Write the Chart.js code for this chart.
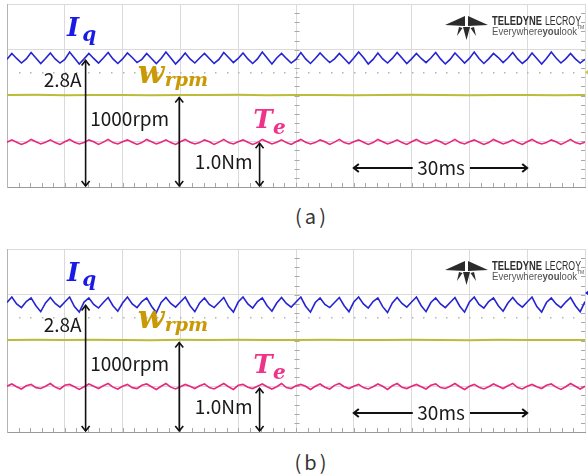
<!DOCTYPE html>
<html>
<head>
<meta charset="utf-8">
<script src="https://cdn.jsdelivr.net/npm/chart.js@4.4.1/dist/chart.umd.min.js"></script>
<style>
  html, body { margin: 0; padding: 0; background: #fff; }
  body { width: 588px; height: 476px; position: relative; overflow: hidden; }
  canvas { position: absolute; left: 0; }
  #chartA { top: 0; }
  #chartB { top: 245px; }
  .caption {
    position: absolute; left: 272px; width: 80px; text-align: center;
    font: 20px "Noto Sans CJK KR", "Noto Sans", sans-serif; line-height: 26px;
    color: #333; letter-spacing: 3px;
  }
</style>
</head>
<body>
<canvas id="chartA" width="588" height="192"></canvas>
<canvas id="chartB" width="588" height="192"></canvas>
<div class="caption" style="top:203px">(a)</div>
<div class="caption" style="top:449px">(b)</div>
<script>
// Значення, зчитані з осцилограм (100 мс на екран, 10 мс/поділку)
// Iq в А (1 А/под.), швидкість в об/хв (500 об/хв/под.), Te в Н·м (1 Н·м/под.)

// (a) струм Iq
const iqA = [
  2.79,2.92,2.81,2.71, 2.80,2.94,2.82,2.70, 2.81,2.93,2.80,2.71, 2.79,2.95,2.82,2.69,
  2.80,2.92,2.81,2.71, 2.82,2.94,2.80,2.70, 2.80,2.93,2.83,2.72, 2.79,2.92,2.81,2.70,
  2.81,2.95,2.82,2.69, 2.80,2.93,2.80,2.71, 2.82,2.92,2.81,2.70, 2.79,2.94,2.83,2.72,
  2.81,2.93,2.80,2.70, 2.80,2.95,2.82,2.69, 2.82,2.92,2.81,2.71, 2.79,2.94,2.80,2.70,
  2.81,2.93,2.82,2.72, 2.80,2.92,2.81,2.70, 2.82,2.95,2.83,2.69, 2.79,2.93,2.80,2.71,
  2.81,2.94,2.82,2.70, 2.80,2.92,2.81,2.72, 2.82,2.94,2.80,2.69, 2.79,2.93,2.82,2.71,
  2.81,2.95,2.81,2.70, 2.80,2.92,2.83,2.72, 2.82,2.94,2.80,2.70, 2.79,2.93,2.81,2.69,
  2.81,2.95,2.82,2.71, 2.80,2.92,2.80,2.71,
  2.79
];
// (a) швидкість
const speedA = [1005,1007,1004,1006,1005,1003,1006,1005,1007,1004,1005,1006,1004,1005,1007,1005,1003,1006,1005,1004,1005];
// (a) момент Te
const torqueA = [
  0.98,1.03,0.98,0.93, 0.97,1.04,0.99,0.94, 0.98,1.03,0.97,0.93, 0.99,1.04,0.98,0.94,
  0.97,1.03,0.99,0.93, 0.98,1.04,0.97,0.94, 0.99,1.03,0.98,0.93, 0.97,1.04,0.99,0.94,
  0.98,1.03,0.97,0.93, 0.99,1.04,0.98,0.94, 0.97,1.03,0.99,0.93, 0.98,1.04,0.97,0.94,
  0.99,1.03,0.98,0.93, 0.97,1.04,0.99,0.94, 0.98,1.03,0.97,0.93, 0.99,1.04,0.98,0.94,
  0.97,1.03,0.99,0.93, 0.98,1.04,0.97,0.94, 0.99,1.03,0.98,0.93, 0.97,1.04,0.99,0.94,
  0.98,1.03,0.97,0.93, 0.99,1.04,0.98,0.94, 0.97,1.03,0.99,0.93, 0.98,1.04,0.97,0.94,
  0.99,1.03,0.98,0.93, 0.97,1.04,0.99,0.94, 0.98,1.03,0.97,0.93, 0.99,1.04,0.98,0.94,
  0.97,1.03,0.99,0.93, 0.98,1.04,0.97,0.94,
  0.98
];

// (b) струм Iq
const iqB = [
  2.83,2.95,2.80,2.72, 2.85,2.93,2.76,2.63, 2.82,2.94,2.81,2.73, 2.84,2.95,2.74,2.62,
  2.84,2.93,2.79,2.71, 2.83,2.94,2.76,2.64, 2.82,2.95,2.80,2.72, 2.85,2.93,2.75,2.61,
  2.83,2.94,2.81,2.73, 2.84,2.95,2.76,2.63, 2.82,2.93,2.79,2.72, 2.83,2.94,2.74,2.62,
  2.84,2.95,2.80,2.71, 2.85,2.93,2.76,2.64, 2.82,2.94,2.81,2.73, 2.84,2.95,2.75,2.62,
  2.83,2.93,2.79,2.72, 2.83,2.94,2.76,2.63, 2.84,2.95,2.80,2.71, 2.85,2.93,2.74,2.61,
  2.82,2.94,2.81,2.73, 2.84,2.95,2.76,2.63, 2.83,2.93,2.80,2.72, 2.83,2.94,2.75,2.62,
  2.84,2.95,2.79,2.71, 2.85,2.93,2.76,2.64, 2.82,2.94,2.81,2.73, 2.84,2.95,2.74,2.62,
  2.83,2.93,2.80,2.72, 2.84,2.94,2.76,2.63,
  2.85
];
// (b) швидкість
const speedB = [1006,1008,1005,1007,1006,1004,1007,1006,1008,1005,1006,1007,1005,1006,1008,1006,1004,1007,1006,1005,1006];
// (b) момент Te
const torqueB = [
  1.00,1.05,0.99,0.94, 1.01,1.04,0.97,0.95, 1.00,1.06,0.98,0.94, 1.02,1.04,0.99,0.93,
  0.99,1.05,1.00,0.95, 1.01,1.06,0.98,0.94, 1.00,1.04,0.97,0.95, 1.02,1.05,0.99,0.93,
  1.00,1.06,0.98,0.94, 0.99,1.04,1.00,0.95, 1.01,1.05,0.97,0.94, 1.00,1.06,0.99,0.93,
  1.02,1.04,0.98,0.95, 1.00,1.05,0.99,0.94, 0.99,1.06,0.97,0.95, 1.01,1.04,1.00,0.93,
  1.00,1.05,0.98,0.94, 1.02,1.06,0.99,0.95, 1.00,1.04,0.97,0.94, 0.99,1.05,1.00,0.93,
  1.01,1.06,0.98,0.95, 1.00,1.04,0.99,0.94, 1.02,1.05,0.97,0.95, 1.00,1.06,0.99,0.93,
  1.00,1.04,0.98,0.94, 0.99,1.05,1.00,0.95, 1.01,1.06,0.97,0.94, 1.00,1.04,0.99,0.95,
  1.02,1.05,0.98,0.93, 0.99,1.06,1.00,0.94,
  1.00
];

// Позначки рівнів (стрілки від нуля до рівня сигналу)
const levelLabels = ['2.8A', '1000rpm', '1.0Nm'];
const levelValues = [2.8, 1000, 1.0];
const timeSpanLabel = '30ms';
const timeSpan = [60, 90];

const screenMs = 100;

function toPoints(values) {
  const step = screenMs / (values.length - 1);
  return values.map((v, i) => ({ x: i * step, y: v }));
}

function chevron(ctx, x, y, dir) {
  const s = 4, l = 5;
  ctx.beginPath();
  if (dir === 'up')    { ctx.moveTo(x - s, y + l); ctx.lineTo(x, y); ctx.lineTo(x + s, y + l); }
  if (dir === 'down')  { ctx.moveTo(x - s, y - l); ctx.lineTo(x, y); ctx.lineTo(x + s, y - l); }
  if (dir === 'left')  { ctx.moveTo(x + l, y - s); ctx.lineTo(x, y); ctx.lineTo(x + l, y + s); }
  if (dir === 'right') { ctx.moveTo(x - l, y - s); ctx.lineTo(x, y); ctx.lineTo(x - l, y + s); }
  ctx.stroke();
}

function vArrow(ctx, x, yTop, yBottom) {
  ctx.beginPath();
  ctx.moveTo(x, yTop); ctx.lineTo(x, yBottom);
  ctx.stroke();
  chevron(ctx, x, yTop, 'up');
  chevron(ctx, x, yBottom, 'down');
}

const labelFont = '19px "Noto Sans CJK KR", "Noto Sans", sans-serif';
const symFont = (px) => 'bold italic ' + px + 'px "DejaVu Serif", serif';

// Декор осцилографа: дрібні поділки, лінія зміщення, маркер каналу
const scopeDecor = {
  id: 'scopeDecor',
  beforeDatasetsDraw(chart, args, opts) {
    const { ctx, chartArea: a, scales: { x, y } } = chart;
    ctx.save();
    ctx.strokeStyle = '#a8a8a8';
    ctx.lineWidth = 1;
    ctx.beginPath();
    for (let t = 2; t < 100; t += 2) {
      const px = Math.round(x.getPixelForValue(t)) + 0.5;
      ctx.moveTo(px, a.bottom); ctx.lineTo(px, a.bottom - 4);
    }
    const cx = Math.round(x.getPixelForValue(50)) + 0.5;
    for (let k = 1; k < 20; k++) {
      const py = Math.round(y.getPixelForValue(k * 0.2)) + 0.5;
      ctx.moveTo(cx - 2, py); ctx.lineTo(cx + 3, py);
      ctx.moveTo(a.right - 4, py); ctx.lineTo(a.right, py);
    }
    ctx.stroke();

    // пунктир зміщення каналу
    ctx.fillStyle = '#b4b4b4';
    const oy = Math.round(y.getPixelForValue(opts.offsetDiv));
    for (let t = 2; t < 100; t += 2) {
      ctx.fillRect(Math.round(x.getPixelForValue(t)), oy, 1.5, 1.5);
    }

    // маркер каналу праворуч
    const my = y.getPixelForValue(opts.markerDiv);
    ctx.fillStyle = opts.markerColor;
    ctx.beginPath();
    ctx.moveTo(a.right, my); ctx.lineTo(a.right + 4, my - 3); ctx.lineTo(a.right + 4, my + 3);
    ctx.closePath();
    ctx.fill();
    ctx.restore();
  },
  afterDatasetsDraw(chart) {
    const { ctx, chartArea: a, scales: { x, y, yW, yT } } = chart;
    const X = (t) => x.getPixelForValue(t);
    const Y = (d) => y.getPixelForValue(d);
    ctx.save();

    // стрілки рівнів
    ctx.strokeStyle = '#111';
    ctx.lineWidth = 1.6;
    const bottom = a.bottom - 1;
    vArrow(ctx, X(13.6), y.getPixelForValue(levelValues[0]) + 1.5, bottom);
    vArrow(ctx, X(29.8), yW.getPixelForValue(levelValues[1]) + 2, bottom);
    vArrow(ctx, X(43.7), yT.getPixelForValue(levelValues[2]) + 2, bottom);

    ctx.fillStyle = '#1a1a1a';
    ctx.font = labelFont;
    ctx.textBaseline = 'alphabetic';
    ctx.textAlign = 'right';
    ctx.fillText(levelLabels[0], X(12.9), Y(2.19));
    ctx.textAlign = 'left';
    ctx.fillText(levelLabels[1], X(14.4), Y(1.33));
    ctx.fillText(levelLabels[2], X(32.5), Y(0.39));

    // стрілка часу
    const ay = Y(0.415);
    ctx.lineWidth = 2;
    ctx.beginPath();
    ctx.moveTo(X(timeSpan[0]), ay); ctx.lineTo(X(70.2), ay);
    ctx.moveTo(X(80.1), ay); ctx.lineTo(X(timeSpan[1]), ay);
    ctx.stroke();
    chevron(ctx, X(timeSpan[0]), ay, 'left');
    chevron(ctx, X(timeSpan[1]), ay, 'right');
    ctx.textAlign = 'center';
    ctx.fillText(timeSpanLabel, X(75.1), Y(0.26));

    // позначення сигналів
    ctx.textAlign = 'left';
    ctx.fillStyle = '#1a1ae6';
    ctx.font = symFont(26); ctx.fillText('I', X(10.4), Y(3.30));
    ctx.font = symFont(20); ctx.fillText('q', X(13.0), Y(3.19));
    ctx.fillStyle = '#c99a06';
    ctx.font = symFont(31); ctx.fillText('w', X(22.6), Y(2.27));
    ctx.font = symFont(19); ctx.fillText('rpm', X(27.3), Y(2.21));
    ctx.fillStyle = '#f0338a';
    ctx.font = symFont(26); ctx.fillText('T', X(42.6), Y(1.29));
    ctx.font = symFont(20); ctx.fillText('e', X(46.0), Y(1.16));

    // логотип
    const lx = a.right - 93, ly = a.top + 21;
    ctx.fillStyle = '#2e2e2e';
    ctx.font = 'bold 12px "Liberation Sans", sans-serif';
    ctx.fillText('TELEDYNE', lx, ly, 50);
    ctx.font = '12px "Liberation Sans", sans-serif';
    ctx.fillText('LECROY', lx + 53, ly, 36);
    ctx.fillStyle = '#555';
    const parts = [['Everywhere', '10.5px'], ['you', 'bold 10.5px'], ['look', '10.5px']];
    let total = 0;
    parts.forEach(p => { ctx.font = p[1] + ' "Liberation Sans", sans-serif'; total += ctx.measureText(p[0]).width; });
    const sx = 85 / total;
    let px = lx;
    parts.forEach(p => {
      ctx.font = p[1] + ' "Liberation Sans", sans-serif';
      const w = ctx.measureText(p[0]).width * sx;
      ctx.fillText(p[0], px, ly + 10, w);
      px += w;
    });
    ctx.font = '5px "Liberation Sans", sans-serif';
    ctx.fillText('TM', px, ly + 4);

    // символ логотипа
    const sxl = a.right - 140, syl = a.top + 12;
    ctx.fillStyle = '#2b2b2b';
    ctx.beginPath();
    ctx.moveTo(sxl, syl + 9); ctx.lineTo(sxl + 20, syl); ctx.lineTo(sxl + 20, syl + 10); ctx.closePath();
    ctx.moveTo(sxl + 43, syl + 9); ctx.lineTo(sxl + 23, syl); ctx.lineTo(sxl + 23, syl + 10); ctx.closePath();
    ctx.moveTo(sxl + 18, syl + 11); ctx.lineTo(sxl + 25, syl + 11); ctx.lineTo(sxl + 21.5, syl + 24); ctx.closePath();
    ctx.moveTo(sxl + 14, syl + 11); ctx.lineTo(sxl + 17.5, syl + 12); ctx.lineTo(sxl + 12, syl + 20); ctx.closePath();
    ctx.moveTo(sxl + 29, syl + 11); ctx.lineTo(sxl + 25.5, syl + 12); ctx.lineTo(sxl + 31, syl + 20); ctx.closePath();
    ctx.fill();

    ctx.restore();
  }
};

function buildChart(id, iq, speed, torque, marker) {
  return new Chart(document.getElementById(id), {
    type: 'line',
    data: {
      datasets: [
        { label: 'Iq', data: toPoints(iq), yAxisID: 'y', borderColor: '#2424d2', borderWidth: 1.6 },
        { label: 'w', data: toPoints(speed), yAxisID: 'yW', borderColor: '#bcbc3c', borderWidth: 2 },
        { label: 'Te', data: toPoints(torque), yAxisID: 'yT', borderColor: '#e8287c', borderWidth: 1.6 }
      ]
    },
    options: {
      responsive: false,
      animation: false,
      devicePixelRatio: 1,
      layout: { padding: { left: 7, right: 3, top: 4, bottom: 5 } },
      elements: { point: { radius: 0 }, line: { tension: 0 } },
      plugins: {
        legend: { display: false },
        tooltip: { enabled: false },
        scopeDecor: marker
      },
      scales: {
        x: {
          type: 'linear', min: 0, max: screenMs,
          ticks: { display: false, stepSize: 10 },
          grid: { color: '#dadada', drawTicks: false },
          border: { color: '#9a9a9a' }
        },
        y: {
          min: 0, max: 4,
          ticks: { display: false, stepSize: 1 },
          grid: { color: '#dadada', drawTicks: false },
          border: { color: '#b4b4b4' }
        },
        yW: { min: 0, max: 2000, display: false },
        yT: { min: 0, max: 4, display: false }
      }
    },
    plugins: [scopeDecor]
  });
}

buildChart('chartA', iqA, speedA, torqueA, { offsetDiv: 2.51, markerDiv: 2.51, markerColor: '#c8c83a' });
buildChart('chartB', iqB, speedB, torqueB, { offsetDiv: 2.51, markerDiv: 3.04, markerColor: '#1f1fd6' });
</script>
</body>
</html>
